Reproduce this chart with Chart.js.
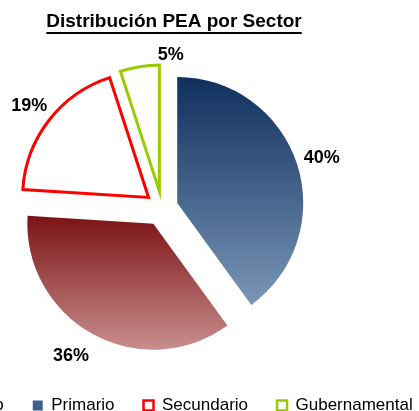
<!DOCTYPE html>
<html>
<head>
<meta charset="utf-8">
<script src="https://cdn.jsdelivr.net/npm/chart.js@4"></script>
<style>
  html, body { margin: 0; padding: 0; background: #ffffff; overflow: hidden; width: 419px; height: 411px; }
  #wrap { position: absolute; left: -108px; top: 0; }
</style>
</head>
<body>
<div id="wrap"><canvas id="pea-chart" width="564" height="424"></canvas></div>
<script>
const sectors = ['Primario', 'Terciario', 'Secundario', 'Gubernamental'];
const shares = [40, 36, 19, 5];
const legendOrder = ['Terciario', 'Primario', 'Secundario', 'Gubernamental'];

const RADIUS = 126;
const PIE_SHIFT_X = -12;
const explode = [16, 18, 17, 17];
const LABEL_DIST = 168;
const labelNudge = [[0, 2], [-10, 1], [0, 1], [35, 13]];

/* vertical gradients for the two filled slices, in pie coordinates */
function sliceFill(context) {
    const i = context.dataIndex;
    const solid = ['#3f5f8a', '#9c4a4a', '#ffffff', '#ffffff'][i];
    const area = context.chart.chartArea;
    if (!area || i > 1) return solid;
    const cy = (area.top + area.bottom) / 2;
    const ctx = context.chart.ctx;
    let g;
    if (i === 0) {
        g = ctx.createLinearGradient(0, cy - RADIUS, 0, cy + 0.81 * RADIUS);
        g.addColorStop(0, '#0f2f5e');
        g.addColorStop(1, '#7a97b6');
    } else {
        g = ctx.createLinearGradient(0, cy - 0.07 * RADIUS, 0, cy + RADIUS);
        g.addColorStop(0, '#7a1214');
        g.addColorStop(1, '#c98e8d');
    }
    return g;
}

// draw each slice pulled out along its bisector
const explodePlugin = {
    id: 'explode',
    beforeDatasetDraw(chart, args) {
        const ctx = chart.ctx;
        args.meta.data.forEach((arc, i) => {
            const mid = (arc.startAngle + arc.endAngle) / 2;
            ctx.save();
            ctx.translate(PIE_SHIFT_X + Math.cos(mid) * explode[i], Math.sin(mid) * explode[i]);
            arc.draw(ctx, chart.chartArea);
            ctx.restore();
        });
        return false;
    }
};

const percentLabels = {
    id: 'percentLabels',
    afterDatasetsDraw(chart) {
        const ctx = chart.ctx;
        const meta = chart.getDatasetMeta(0);
        ctx.save();
        ctx.font = 'bold 18px "Liberation Sans", Arial, sans-serif';
        ctx.fillStyle = '#000000';
        ctx.textAlign = 'center';
        ctx.textBaseline = 'middle';
        meta.data.forEach((arc, i) => {
            const mid = (arc.startAngle + arc.endAngle) / 2;
            const x = arc.x + PIE_SHIFT_X + Math.cos(mid) * LABEL_DIST + labelNudge[i][0];
            const y = arc.y + Math.sin(mid) * LABEL_DIST + labelNudge[i][1];
            ctx.fillText(shares[i] + '%', x, y);
        });
        ctx.restore();
    }
};

const titleUnderline = {
    id: 'titleUnderline',
    afterDraw(chart) {
        const t = chart.titleBlock;
        if (!t) return;
        const ctx = chart.ctx;
        ctx.save();
        ctx.font = 'bold 19px "Liberation Sans", Arial, sans-serif';
        const w = ctx.measureText(t.options.text).width;
        const cx = (t.left + t.right) / 2;
        const y = t.top + 10 + 22;
        ctx.fillStyle = '#000000';
        ctx.fillRect(cx - w / 2, y, w, 2);
        ctx.restore();
    }
};

new Chart(document.getElementById('pea-chart'), {
    type: 'pie',
    data: {
        labels: sectors,
        datasets: [{
            data: shares,
            backgroundColor: sliceFill,
            borderColor: ['#ffffff', '#ffffff', '#ff0000', '#99cc00'],
            borderWidth: [0, 0, 3, 3],
            borderJoinStyle: 'miter'
        }]
    },
    options: {
        responsive: false,
        animation: false,
        devicePixelRatio: 1,
        radius: RADIUS,
        layout: { padding: 0 },
        plugins: {
            tooltip: { enabled: false },
            title: {
                display: true,
                text: 'Distribución PEA por Sector',
                color: '#000000',
                font: { family: '"Liberation Sans", Arial, sans-serif', size: 19, weight: 'bold' },
                padding: { top: 10, bottom: 15 }
            },
            legend: {
                position: 'bottom',
                align: 'start',
                labels: {
                    color: '#000000',
                    font: { family: '"Liberation Sans", Arial, sans-serif', size: 17 },
                    boxWidth: 10,
                    boxHeight: 10,
                    padding: 29,
                    sort: (a, b) => legendOrder.indexOf(a.text) - legendOrder.indexOf(b.text),
                    generateLabels(chart) {
                        const items = Chart.overrides.pie.plugins.legend.labels.generateLabels(chart);
                        const fills = ['#3f5f8a', '#8e3434', '#ffffff', '#ffffff'];
                        items.forEach(item => {
                            item.fillStyle = fills[item.index];
                            item.lineWidth = item.index > 1 ? 2.5 : 0;
                        });
                        return items;
                    }
                }
            }
        }
    },
    plugins: [explodePlugin, percentLabels, titleUnderline]
});
</script>
</body>
</html>
